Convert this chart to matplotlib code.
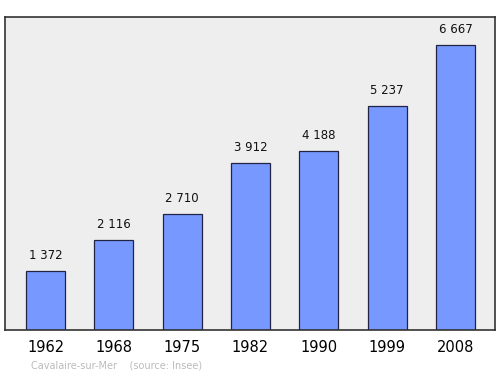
import matplotlib
matplotlib.use("Agg")
import matplotlib.pyplot as plt

years = ["1962", "1968", "1975", "1982", "1990", "1999", "2008"]
population = [1372, 2116, 2710, 3912, 4188, 5237, 6667]
value_labels = ["1 372", "2 116", "2 710", "3 912", "4 188", "5 237", "6 667"]

fig = plt.figure(figsize=(5, 3.74), dpi=100)
ax = fig.add_axes([5/500, 1 - 330/374, 490/500, 313/374])
ax.set_facecolor("#eeeeee")
x = list(range(len(years)))
ax.bar(x, population, width=0.57, color="#7799ff", edgecolor="#222244", linewidth=0.9, zorder=2)
for xi, v, lab in zip(x, population, value_labels):
    ax.annotate(lab, (xi, v), xytext=(0, 6.5), textcoords="offset points",
                ha="center", va="bottom", fontsize=8.5, color="#111111")
ax.set_xlim(-0.593, 6.58)
ax.set_ylim(0, 7330)
ax.set_yticks([])
ax.set_xticks(x)
ax.set_xticklabels(years, fontsize=10.5)
ax.tick_params(axis="x", length=0, pad=7.5)
for s in ax.spines.values():
    s.set_color("#333333")
    s.set_linewidth(1.2)
fig.text(31/500, 1 - 365/374, "Cavalaire-sur-Mer    (source: Insee)", fontsize=7,
         color="#bbbbbb", ha="left", va="center")
fig.savefig("out.png", dpi=100)
